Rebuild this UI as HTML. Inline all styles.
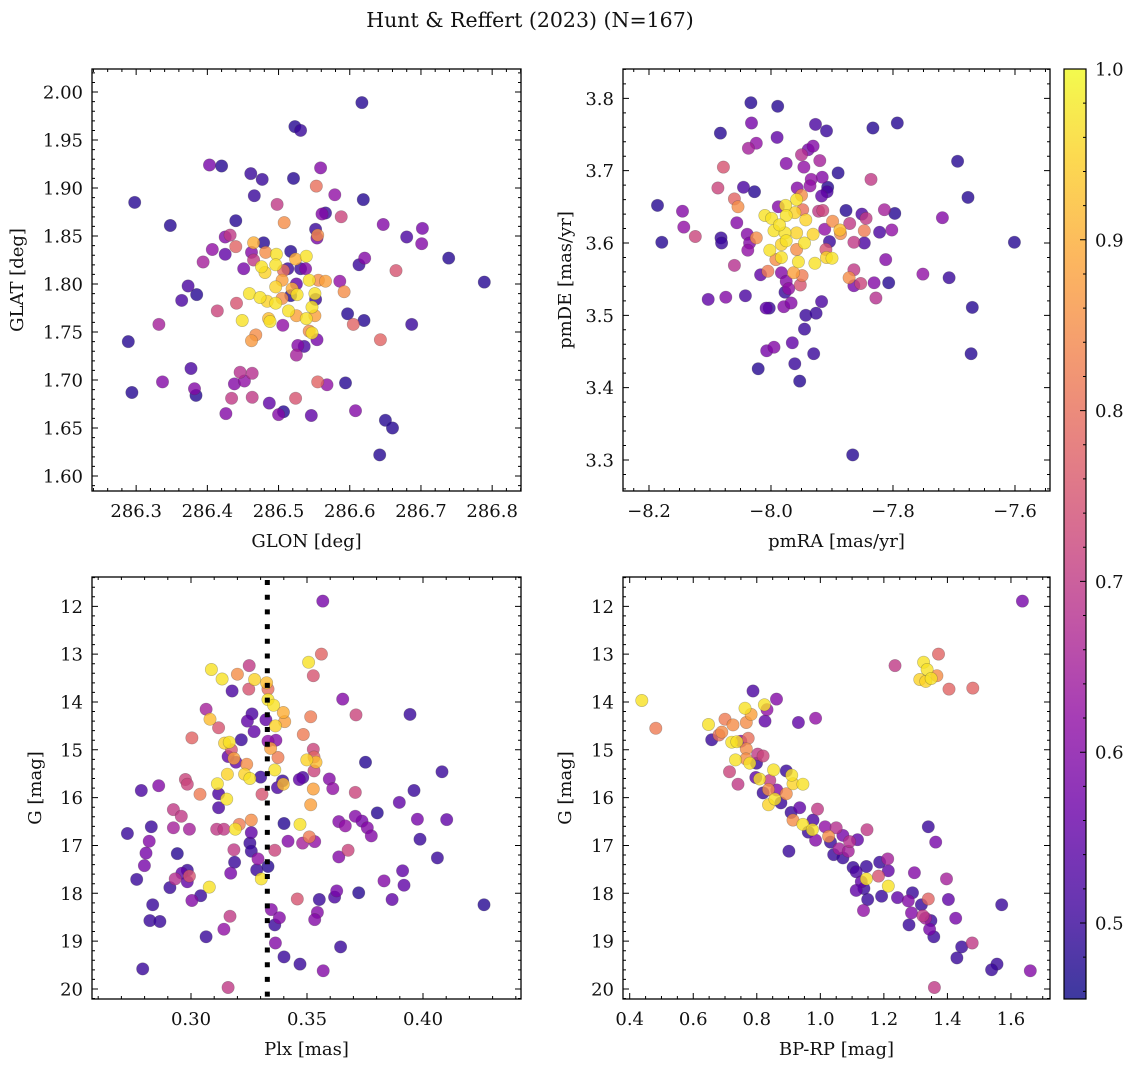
<!DOCTYPE html>
<html><head><meta charset="utf-8"><title>Hunt & Reffert (2023)</title>
<style>html,body{margin:0;padding:0;background:#fff}svg{display:block}text{font-family:"DejaVu Serif","Liberation Serif",serif;fill:#111}</style>
</head><body>
<svg id="fig" width="1136" height="1067" viewBox="0 0 1136 1067" xmlns="http://www.w3.org/2000/svg">
<text x="530" y="27" text-anchor="middle" font-size="20.5">Hunt &amp; Reffert (2023) (N=167)</text>
</svg>
<script>
// ---------- Panel 1: GLON / GLAT ----------
const p1Glon=[286.617,286.523,286.531,286.403,286.420,286.461,286.477,286.521,286.559,286.553,286.466,286.579,286.619,286.298,286.498,286.561,286.566,286.588,286.508,286.348,286.440,286.647,286.702,286.680,286.701,286.552,286.555,286.554,286.425,286.432,286.440,286.407,286.425,286.394,286.465,286.479,286.462,286.465,286.451,286.517,286.482,286.497,286.524,286.539,286.476,286.496,286.481,286.507,286.513,286.531,286.538,286.505,286.543,286.566,286.556,286.586,286.525,286.496,286.519,286.526,286.551,286.592,286.459,286.474,286.484,286.496,286.505,286.517,286.552,286.373,286.385,286.364,286.613,286.621,286.665,286.739,286.789,286.441,286.414,286.547,286.514,286.525,286.486,286.488,286.539,286.551,286.449,286.506,286.597,286.620,286.605,286.687,286.332,286.547,286.543,286.554,286.468,286.462,286.643,286.289,286.527,286.536,286.525,286.377,286.446,286.463,286.452,286.438,286.337,286.382,286.384,286.294,286.555,286.568,286.594,286.434,286.463,286.487,286.524,286.426,286.500,286.507,286.546,286.608,286.650,286.660,286.642];
const p1Glat=[1.989,1.964,1.960,1.924,1.923,1.915,1.909,1.910,1.921,1.902,1.892,1.893,1.888,1.885,1.883,1.873,1.874,1.870,1.864,1.861,1.866,1.862,1.858,1.849,1.842,1.857,1.851,1.848,1.849,1.851,1.839,1.836,1.831,1.823,1.843,1.843,1.833,1.825,1.816,1.834,1.833,1.831,1.826,1.829,1.818,1.820,1.812,1.814,1.816,1.816,1.816,1.804,1.804,1.803,1.804,1.803,1.800,1.797,1.795,1.789,1.790,1.792,1.790,1.786,1.782,1.780,1.785,1.788,1.784,1.798,1.789,1.783,1.820,1.827,1.814,1.827,1.802,1.780,1.772,1.776,1.772,1.767,1.764,1.761,1.764,1.767,1.762,1.757,1.769,1.762,1.758,1.758,1.758,1.749,1.751,1.742,1.747,1.741,1.742,1.740,1.736,1.735,1.726,1.712,1.708,1.707,1.699,1.696,1.698,1.691,1.684,1.687,1.698,1.695,1.697,1.681,1.682,1.676,1.681,1.665,1.664,1.667,1.663,1.668,1.658,1.650,1.622];
const p1Prob=[.48,.48,.5,.58,.48,.5,.5,.48,.6,.8,.5,.62,.48,.48,.7,.6,.5,.72,.85,.48,.48,.6,.58,.52,.6,.5,.85,.58,.6,.7,.78,.62,.55,.65,.9,.48,.6,.7,.58,.48,.85,.97,.9,.97,.97,.97,.95,.8,.5,.5,.6,.88,.97,.88,.85,.62,.55,.95,.9,.97,.97,.85,.97,.97,.95,.97,.85,.48,.5,.52,.48,.52,.5,.6,.75,.48,.48,.75,.72,.97,.97,.88,.92,.97,.97,.88,.97,.62,.48,.48,.78,.5,.65,.97,.85,.58,.85,.87,.78,.48,.6,.52,.65,.52,.68,.68,.62,.6,.6,.6,.48,.48,.78,.62,.48,.7,.7,.55,.75,.6,.6,.48,.55,.6,.48,.48,.48];
const p1XTicks=[286.3,286.4,286.5,286.6,286.7,286.8];
const p1XTickLabels=["286.3","286.4","286.5","286.6","286.7","286.8"];
const p1YTicks=[1.60,1.65,1.70,1.75,1.80,1.85,1.90,1.95,2.00];
const p1YTickLabels=["1.60","1.65","1.70","1.75","1.80","1.85","1.90","1.95","2.00"];

// ---------- Panel 2: pmRA / pmDE ----------
const p2PmRA=[-8.033,-7.989,-8.032,-8.083,-7.927,-7.909,-7.833,-7.793,-7.990,-8.024,-8.037,-7.931,-7.939,-7.950,-7.920,-7.975,-7.946,-8.078,-7.694,-7.890,-7.836,-7.916,-7.934,-7.936,-8.087,-8.045,-8.027,-7.957,-7.907,-7.908,-7.917,-7.950,-8.060,-8.054,-7.677,-8.186,-8.145,-7.958,-7.976,-7.988,-8.010,-7.999,-7.975,-7.961,-7.943,-7.948,-7.915,-7.922,-7.877,-7.851,-7.844,-7.814,-7.797,-7.719,-8.143,-8.124,-8.056,-7.995,-7.977,-7.958,-7.986,-7.931,-7.912,-7.899,-7.887,-7.886,-7.871,-7.847,-7.822,-7.802,-8.179,-7.601,-8.082,-8.081,-8.039,-8.024,-8.035,-8.038,-7.975,-7.983,-7.945,-8.002,-7.958,-7.904,-7.864,-7.847,-7.910,-7.909,-7.900,-7.983,-7.992,-7.955,-7.928,-7.812,-8.060,-8.017,-8.005,-7.983,-7.963,-7.949,-7.751,-7.708,-7.864,-7.872,-7.853,-7.864,-7.831,-7.807,-7.828,-7.975,-7.952,-7.971,-7.977,-8.103,-8.074,-8.042,-7.917,-8.008,-8.003,-7.979,-7.967,-7.670,-7.943,-7.926,-7.945,-7.965,-8.007,-7.995,-7.930,-7.672,-7.961,-8.021,-7.953,-7.866];
const p2PmDE=[3.794,3.789,3.766,3.752,3.764,3.755,3.759,3.766,3.746,3.738,3.731,3.734,3.729,3.722,3.714,3.710,3.705,3.705,3.713,3.697,3.688,3.691,3.688,3.679,3.676,3.677,3.671,3.676,3.677,3.671,3.665,3.666,3.661,3.650,3.663,3.652,3.644,3.660,3.652,3.650,3.638,3.634,3.638,3.642,3.632,3.646,3.645,3.644,3.645,3.640,3.634,3.646,3.641,3.635,3.622,3.609,3.628,3.617,3.614,3.614,3.625,3.612,3.619,3.630,3.618,3.613,3.627,3.617,3.615,3.618,3.601,3.601,3.607,3.600,3.612,3.607,3.600,3.590,3.603,3.598,3.600,3.590,3.591,3.602,3.601,3.600,3.591,3.580,3.579,3.580,3.577,3.574,3.572,3.577,3.569,3.556,3.561,3.559,3.559,3.555,3.557,3.552,3.563,3.552,3.544,3.541,3.545,3.545,3.524,3.547,3.542,3.537,3.532,3.522,3.525,3.527,3.519,3.510,3.510,3.512,3.517,3.511,3.500,3.503,3.481,3.462,3.451,3.456,3.447,3.447,3.433,3.426,3.409,3.307];
const p2Prob=[.48,.48,.58,.48,.52,.5,.48,.48,.55,.62,.65,.6,.58,.68,.65,.6,.62,.75,.48,.48,.7,.6,.62,.62,.72,.52,.48,.6,.48,.52,.55,.85,.78,.85,.48,.48,.6,.97,.97,.6,.97,.97,.97,.95,.95,.8,.72,.7,.48,.52,.7,.65,.48,.6,.62,.72,.6,.97,.97,.95,.97,.95,.62,.85,.92,.85,.7,.82,.52,.62,.48,.48,.5,.5,.6,.85,.6,.62,.97,.95,.97,.97,.85,.5,.7,.52,.75,.95,.97,.97,.85,.97,.97,.6,.68,.55,.82,.6,.88,.82,.62,.5,.7,.85,.72,.58,.6,.48,.68,.6,.75,.62,.5,.55,.6,.52,.52,.55,.5,.6,.6,.48,.5,.5,.5,.55,.58,.6,.5,.48,.5,.48,.48,.48];
const p2XTicks=[-8.2,-8.0,-7.8,-7.6];
const p2XTickLabels=["\u22128.2","\u22128.0","\u22127.8","\u22127.6"];
const p2YTicks=[3.3,3.4,3.5,3.6,3.7,3.8];
const p2YTickLabels=["3.3","3.4","3.5","3.6","3.7","3.8"];

// ---------- Panel 3: Plx / G ----------
const p3Plx=[0.3568,0.3562,0.3507,0.3527,0.3088,0.3134,0.3200,0.3251,0.3274,0.3249,0.3177,0.3326,0.3332,0.3332,0.3356,0.3398,0.3404,0.3364,0.3654,0.3711,0.3944,0.3516,0.3065,0.3082,0.3119,0.3004,0.3263,0.3243,0.3272,0.3217,0.3323,0.3332,0.3366,0.3484,0.3145,0.3165,0.3174,0.3160,0.3185,0.3194,0.3343,0.3375,0.3527,0.3530,0.3499,0.3539,0.3240,0.3361,0.3530,0.3752,0.4082,0.3157,0.3231,0.3254,0.3300,0.3114,0.3395,0.3373,0.3398,0.3467,0.3482,0.3596,0.3611,0.3527,0.2976,0.2984,0.2861,0.2786,0.3039,0.3119,0.3154,0.3306,0.3708,0.3961,0.3516,0.3119,0.3898,0.3803,0.2924,0.2958,0.3260,0.3208,0.3401,0.3470,0.3637,0.3665,0.3708,0.3737,0.3760,0.3777,0.3976,0.4102,0.3987,0.2829,0.2924,0.2993,0.3111,0.3142,0.3191,0.2726,0.3260,0.3254,0.3418,0.3481,0.3510,0.3533,0.2820,0.3185,0.3260,0.3361,0.3677,0.3637,0.4062,0.2806,0.2941,0.3289,0.2799,0.3188,0.3332,0.3283,0.3171,0.2984,0.2961,0.2993,0.2932,0.2984,0.2766,0.3303,0.3912,0.3832,0.3918,0.2909,0.3079,0.3042,0.3004,0.2835,0.3458,0.3553,0.3619,0.3628,0.3723,0.3867,0.4263,0.3346,0.3381,0.3361,0.3545,0.3533,0.2823,0.2866,0.3168,0.3142,0.3065,0.3364,0.3645,0.3401,0.3470,0.3570,0.2792,0.3160];
const p3G=[11.89,13.00,13.17,13.45,13.32,13.52,13.42,13.24,13.53,13.73,13.77,13.60,13.73,13.95,14.07,14.22,14.41,14.50,13.94,14.27,14.26,14.31,14.15,14.36,14.54,14.75,14.25,14.40,14.62,14.79,14.37,14.82,14.80,14.68,14.86,14.84,15.00,15.14,15.18,15.26,14.97,15.16,14.99,15.15,15.21,15.26,15.30,15.42,15.44,15.26,15.46,15.51,15.51,15.60,15.57,15.71,15.65,15.79,15.72,15.62,15.58,15.61,15.81,15.82,15.62,15.72,15.75,15.85,15.93,15.92,16.03,15.93,15.89,15.85,16.15,16.21,16.10,16.32,16.25,16.39,16.47,16.56,16.54,16.56,16.50,16.59,16.39,16.49,16.63,16.80,16.45,16.46,16.87,16.61,16.63,16.66,16.66,16.66,16.66,16.75,16.73,16.95,16.91,16.95,16.82,16.92,16.91,17.09,17.12,17.10,17.10,17.24,17.26,17.16,17.17,17.28,17.42,17.35,17.44,17.51,17.58,17.52,17.58,17.64,17.70,17.76,17.71,17.70,17.53,17.74,17.83,17.88,17.87,18.05,18.15,18.24,18.12,18.13,18.08,17.95,17.99,18.13,18.24,18.34,18.51,18.66,18.40,18.55,18.57,18.59,18.48,18.75,18.91,19.04,19.12,19.33,19.48,19.62,19.58,19.97];
const p3Prob=[.58,.78,.97,.75,.97,.97,.85,.7,.95,.75,.52,.92,.8,.97,.97,.9,.88,.95,.6,.72,.5,.82,.65,.92,.75,.78,.52,.55,.55,.5,.55,.62,.6,.82,.95,.97,.75,.55,.88,.55,.88,.82,.72,.78,.95,.92,.85,.97,.72,.48,.5,.95,.95,.97,.5,.97,.5,.52,.92,.55,.52,.6,.62,.88,.72,.72,.6,.52,.82,.52,.97,.75,.72,.5,.88,.52,.55,.48,.7,.7,.85,.82,.48,.97,.6,.62,.6,.58,.6,.6,.58,.55,.5,.5,.65,.65,.7,.7,.97,.5,.55,.5,.6,.65,.82,.62,.6,.7,.5,.72,.72,.6,.5,.58,.48,.62,.58,.5,.48,.5,.58,.5,.55,.75,.68,.55,.5,.97,.55,.6,.55,.5,.97,.5,.6,.5,.75,.5,.52,.58,.48,.55,.48,.6,.6,.5,.6,.6,.5,.5,.7,.62,.5,.6,.5,.5,.5,.6,.5,.7];
const p3XTicks=[0.30,0.35,0.40];
const p3XTickLabels=["0.30","0.35","0.40"];
const gTicks=[12,13,14,15,16,17,18,19,20];
const gTickLabels=["12","13","14","15","16","17","18","19","20"];
const plxRef=[0.3329];

// ---------- Panel 4: BP-RP / G ----------
const p4BpRp=[1.636,1.372,1.235,1.325,1.336,1.367,1.313,1.332,1.349,1.405,1.480,0.438,0.482,0.788,0.862,0.763,0.824,0.832,0.782,0.826,0.931,0.985,0.648,0.700,0.725,0.767,0.690,0.681,0.658,0.721,0.737,0.773,0.750,0.767,0.803,0.820,0.733,0.766,0.778,0.799,0.714,0.741,0.893,0.853,0.910,0.945,0.914,0.797,0.809,0.841,0.820,0.837,0.863,0.893,0.857,0.837,0.876,0.908,0.935,0.991,0.914,0.945,0.975,0.977,0.962,0.985,1.015,1.026,1.050,1.032,1.071,1.059,1.092,1.117,1.088,1.147,0.901,1.042,1.071,1.103,1.113,1.145,1.187,1.212,1.214,1.183,1.145,1.129,1.137,1.113,1.214,1.296,1.340,1.363,1.397,1.149,1.193,1.243,1.277,1.290,1.318,1.340,1.403,1.571,1.136,1.287,1.323,1.348,1.331,1.279,1.344,1.426,1.357,1.478,1.445,1.430,1.556,1.539,1.661,1.359];
const p4G=[11.89,13.00,13.24,13.17,13.32,13.45,13.53,13.57,13.51,13.73,13.71,13.97,14.55,13.77,13.94,14.13,14.06,14.16,14.26,14.40,14.43,14.34,14.47,14.36,14.48,14.43,14.63,14.69,14.79,14.84,14.83,14.76,14.82,14.98,15.09,15.13,15.21,15.19,15.28,15.28,15.46,15.72,15.44,15.42,15.53,15.72,15.71,15.58,15.61,15.64,15.90,15.83,15.84,15.92,16.03,16.15,16.11,16.31,16.21,16.24,16.47,16.56,16.67,16.47,16.72,16.89,16.61,16.81,16.63,16.93,16.79,17.07,16.92,16.88,17.12,16.67,17.12,17.19,17.26,17.46,17.55,17.44,17.35,17.28,17.53,17.64,17.70,17.76,17.90,17.94,17.85,17.57,16.61,16.93,17.70,18.13,18.06,18.09,18.16,17.99,18.24,18.12,18.13,18.24,18.36,18.41,18.47,18.57,18.52,18.66,18.75,18.52,18.91,19.04,19.12,19.35,19.48,19.60,19.62,19.97];
const p4Prob=[.58,.78,.7,.97,.97,.85,.95,.95,.97,.78,.78,.97,.82,.52,.6,.97,.97,.62,.88,.55,.55,.62,.97,.82,.85,.85,.85,.8,.5,.97,.97,.8,.6,.85,.7,.72,.97,.85,.97,.5,.72,.7,.5,.97,.97,.97,.95,.55,.97,.7,.5,.85,.6,.85,.97,.95,.5,.5,.55,.7,.85,.97,.97,.52,.5,.6,.62,.85,.68,.5,.58,.65,.68,.55,.65,.7,.5,.5,.5,.5,.52,.5,.5,.65,.55,.75,.97,.55,.5,.55,.97,.6,.5,.58,.65,.5,.5,.55,.6,.5,.5,.78,.55,.5,.62,.6,.7,.5,.65,.5,.58,.58,.5,.7,.5,.5,.5,.5,.6,.7];
const p4XTicks=[0.4,0.6,0.8,1.0,1.2,1.4,1.6];
const p4XTickLabels=["0.4","0.6","0.8","1.0","1.2","1.4","1.6"];

// ---------- Colorbar ----------
const cbTicks=[0.5,0.6,0.7,0.8,0.9,1.0];
const cbTickLabels=["0.5","0.6","0.7","0.8","0.9","1.0"];
const cbMin=0.4555, cbMax=1.0;

const NS="http://www.w3.org/2000/svg";
const svg=document.getElementById('fig');
function mk(tag,attrs,parent){const e=document.createElementNS(NS,tag);for(const k in attrs)e.setAttribute(k,attrs[k]);(parent||svg).appendChild(e);return e;}
const plasma=[[13,8,135],[65,4,157],[106,0,168],[143,13,164],[177,42,144],[204,71,120],[225,100,98],[242,132,75],[252,166,54],[252,206,37],[240,249,33]];
function cmap(v){let t=(v-cbMin)/(cbMax-cbMin);t=Math.max(0,Math.min(1,t));const f=t*10,i=Math.min(9,Math.floor(f)),r=f-i;const a=plasma[i],b=plasma[i+1];return 'rgb('+a.map((c,k)=>Math.round(c+(b[k]-c)*r)).join(',')+')';}
function lin(d0,d1,r0,r1){return v=>r0+(v-d0)/(d1-d0)*(r1-r0);}
function range(a,b,s){const o=[];for(let v=a;v<=b+1e-9;v+=s)o.push(+v.toFixed(6));return o;}

function panel(name,box,xd,yd,xT,xL,yT,yL,xMinor,yMinor,xlab,ylab,ylabX,xs,ys,cs){
  const g=mk('g',{});
  
  
  const X=lin(xd[0],xd[1],box[0],box[2]),Y=lin(yd[0],yd[1],box[3],box[1]);
  const idx=cs.map((c,i)=>i).sort((a,b)=>cs[a]-cs[b]);
  const pts=mk('g',{},g);
  
  
  idx.forEach(i=>{const c=mk('circle',{cx:X(xs[i]).toFixed(1),cy:Y(ys[i]).toFixed(1),r:6.2,fill:cmap(cs[i]),'fill-opacity':0.8,stroke:'rgba(60,60,60,0.35)','stroke-width':0.6},pts);
    
    });
  const fr=mk('rect',{x:box[0],y:box[1],width:box[2]-box[0],height:box[3]-box[1],fill:'none',stroke:'#000','stroke-width':1.3},g);
  
  
  let d='';
  xMinor.forEach(v=>{const x=X(v);if(x<box[0]||x>box[2])return;d+=`M${x},${box[3]}v-3M${x},${box[1]}v3`;});
  yMinor.forEach(v=>{const y=Y(v);if(y<box[1]||y>box[3])return;d+=`M${box[0]},${y}h3M${box[2]},${y}h-3`;});
  xT.forEach(v=>{const x=X(v);d+=`M${x},${box[3]}v-6M${x},${box[1]}v6`;});
  yT.forEach(v=>{const y=Y(v);d+=`M${box[0]},${y}h6M${box[2]},${y}h-6`;});
  const tk=mk('path',{d:d,stroke:'#000','stroke-width':1,fill:'none'},g);
  
  
  xT.forEach((v,i)=>{const t=mk('text',{x:X(v),y:box[3]+26,'text-anchor':'middle','font-size':18},g);t.textContent=xL[i];
    
    });
  yT.forEach((v,i)=>{const t=mk('text',{x:box[0]-9,y:Y(v)+6.5,'text-anchor':'end','font-size':18},g);t.textContent=yL[i];
    
    });
  const xl=mk('text',{x:(box[0]+box[2])/2,y:box[3]+56,'text-anchor':'middle','font-size':18},g);xl.textContent=xlab;
  
  
  const cy=(box[1]+box[3])/2;
  const yl=mk('text',{x:ylabX,y:cy,'text-anchor':'middle','font-size':18,transform:`rotate(-90 ${ylabX} ${cy})`},g);yl.textContent=ylab;
  
  
  return {X,Y,g};
}

panel('glon-glat-panel',[92,69,521,491],[286.238,286.8405],[1.5844,2.024],p1XTicks,p1XTickLabels,p1YTicks,p1YTickLabels,range(286.24,286.84,0.02),range(1.59,2.02,0.01),'GLON [deg]','GLAT [deg]',23,p1Glon,p1Glat,p1Prob);
panel('pm-panel',[623,69,1050,491],[-8.2426,-7.5426],[3.2571,3.8406],p2XTicks,p2XTickLabels,p2YTicks,p2YTickLabels,range(-8.225,-7.55,0.025),range(3.26,3.84,0.02),'pmRA [mas/yr]','pmDE [mas/yr]',571,p2PmRA,p2PmDE,p2Prob);
const P3=panel('plx-g-panel',[92,577,521,999],[0.25733,0.44224],[20.21,11.387],p3XTicks,p3XTickLabels,gTicks,gTickLabels,range(0.26,0.44,0.01),range(11.4,20.2,0.2),'Plx [mas]','G [mag]',41,p3Plx,p3G,p3Prob);
plxRef.forEach(v=>{const l=mk('line',{x1:P3.X(v),x2:P3.X(v),y1:580,y2:999,stroke:'#000','stroke-width':5,'stroke-dasharray':'5,9.7'},P3.g);
  
  });
panel('cmd-panel',[623,577,1050,999],[0.3789,1.7229],[20.21,11.387],p4XTicks,p4XTickLabels,gTicks,gTickLabels,range(0.4,1.7,0.05),range(11.4,20.2,0.2),'BP-RP [mag]','G [mag]',571,p4BpRp,p4G,p4Prob);

// colorbar
const cb=mk('g',{});


const defs=mk('defs',{},cb);
const gr=mk('linearGradient',{id:'cbg',x1:0,y1:1,x2:0,y2:0},defs);
for(let i=0;i<=20;i++){const v=cbMin+(cbMax-cbMin)*i/20;mk('stop',{offset:i/20,'stop-color':cmap(v),'stop-opacity':0.8},gr);}
const cbB=[1064,69,1086,999];
const CY=lin(cbMin,cbMax,cbB[3],cbB[1]);
mk('rect',{x:cbB[0],y:cbB[1],width:cbB[2]-cbB[0],height:cbB[3]-cbB[1],fill:'url(#cbg)',stroke:'#000','stroke-width':1.2},cb);
let cd='';
range(0.46,1.0,0.02).forEach(v=>{cd+=`M${cbB[2]},${CY(v)}h-3`;});
cbTicks.forEach(v=>{cd+=`M${cbB[2]},${CY(v)}h-6`;});
mk('path',{d:cd,stroke:'#000','stroke-width':1},cb);
cbTicks.forEach((v,i)=>{const t=mk('text',{x:1095,y:CY(v)+6.5,'font-size':18},cb);t.textContent=cbTickLabels[i];
  
  });
</script>
</body></html>
